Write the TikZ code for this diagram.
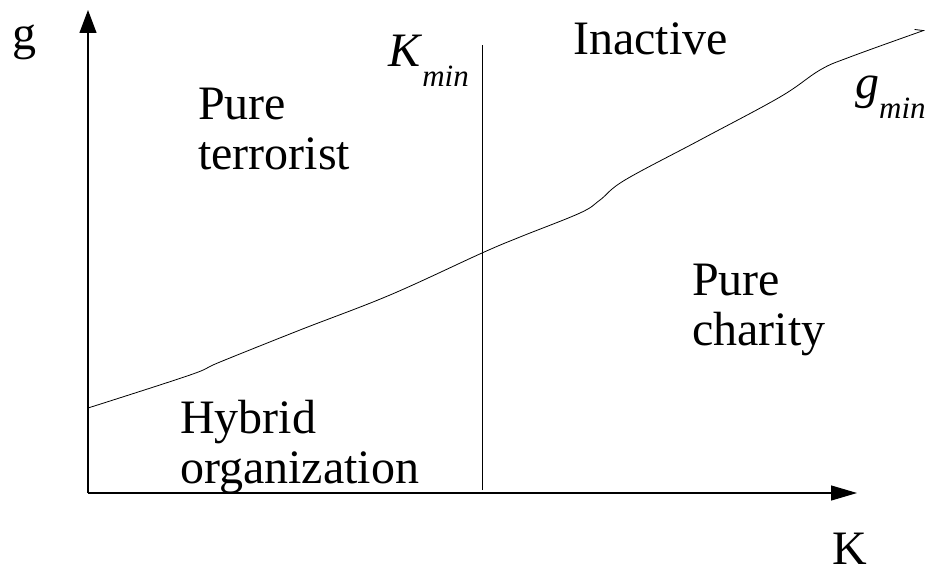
\documentclass[tikz,border=0pt]{standalone}
\usepackage{fontspec}
\setmainfont{Liberation Serif}
\usetikzlibrary{arrows.meta}

\tikzset{
  lbl/.style={anchor=base west, align=left, inner sep=0pt, font=\fontsize{48}{50}\selectfont},
  axis/.style={line width=1.2pt},
}
\newcommand{\subsc}[1]{\raisebox{-20pt}{\fontsize{31}{31}\selectfont\textit{#1}}}

\begin{document}
\begin{tikzpicture}[x=1pt,y=1pt]
        \useasboundingbox (0,0) rectangle (925,574);
        \coordinate (O) at (88,81);
        \coordinate (ytip) at (88,564);
        \coordinate (xtip) at (857,81);
        \coordinate (kbot) at (482,84);
        \coordinate (ktop) at (482,529);
        \draw [axis, -{Triangle[length=23pt,width=17pt]}] (O) -- (ytip);
        \draw [axis, -{Triangle[length=26pt,width=15pt]}] (O) -- (xtip);
        \draw [line width=1pt] (kbot) -- (ktop);
        \draw [line width=0.8pt, -{Straight Barb[harpoon,length=8pt,width=8pt]}] plot [smooth, tension=0.6] coordinates {(88,166) (190,199) (220,212) (300,244) (390,279) (482,321) (520,337) (580,361) (600,374) (625,394) (700,434) (780,477) (820,504) (850,517) (925,544)};
        \node [lbl] (g) at (12,524) {g};
        \node [lbl] (K) at (832,10) {K};
        \node [lbl] (kmin) at (388,507) {\textit{K}\subsc{min}};
        \node [lbl] (gmin) at (855,475) {\textit{g}\subsc{min}};
        \node [lbl] (terr) at (198,404) {Pure\\terrorist};
        \node [lbl] (inact) at (573,519) {Inactive};
        \node [lbl] (char) at (692,229) {Pure\\charity};
        \node [lbl] (hyb) at (180,91) {Hybrid\\organization};
    \end{tikzpicture}
\end{document}
